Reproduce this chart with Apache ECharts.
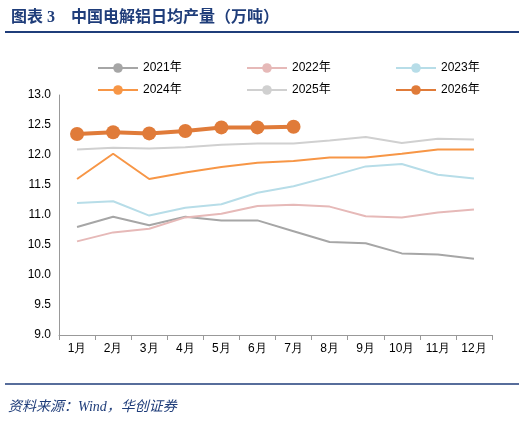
<!DOCTYPE html><html><head><meta charset="utf-8"><script src="https://cdn.jsdelivr.net/npm/echarts@6/dist/echarts.min.js"></script>
<style>html,body{margin:0;padding:0;background:#fff}</style></head><body><div id="c" style="width:524px;height:422px"></div><script>
var months=['1月','2月','3月','4月','5月','6月','7月','8月','9月','10月','11月','12月'];
var s2021=[10.8,10.97,10.83,10.97,10.91,10.91,10.73,10.55,10.53,10.36,10.34,10.27];
var s2022=[10.56,10.71,10.77,10.96,11.02,11.15,11.17,11.14,10.98,10.96,11.04,11.09];
var s2023=[11.2,11.23,10.99,11.12,11.18,11.37,11.48,11.64,11.81,11.85,11.67,11.61];
var s2024=[11.6,12.02,11.6,11.71,11.8,11.87,11.9,11.96,11.96,12.02,12.09,12.09];
var s2025=[12.09,12.12,12.11,12.13,12.17,12.19,12.19,12.24,12.3,12.2,12.27,12.26];
var s2026=[12.35,12.38,12.36,12.4,12.46,12.46,12.47];
var names=['2021年','2022年','2023年','2024年','2025年','2026年'];
var colors=['#a6a6a6','#e6b9b8','#b7dde8','#f79646','#d0d0d0','#e07b39'];
var data=[s2021,s2022,s2023,s2024,s2025,s2026];
var navy='#1f3d7a';
var series=data.map(function(d,i){var big=i===5;return {name:names[i],type:'line',data:d,symbol:big?'circle':'none',symbolSize:14,showSymbol:big,
 lineStyle:{color:colors[i],width:big?4:2},itemStyle:{color:colors[i]},z:big?5:2};});
function lg(arr,left){return {data:arr,left:left,top:57,orient:'vertical',itemGap:10,itemWidth:40,itemHeight:12,textStyle:{fontSize:12,color:'#000',fontFamily:'Liberation Sans, Noto Sans CJK SC'}};}
var c=echarts.init(document.getElementById('c'));
c.setOption({animation:false,
 title:{text:'图表 3    中国电解铝日均产量（万吨）',left:6,top:5,textStyle:{fontSize:16,fontWeight:'bold',color:navy,fontFamily:'Liberation Serif, Noto Sans CJK SC'}},
 graphic:[{type:'line',shape:{x1:5,y1:32,x2:519,y2:32},style:{stroke:navy,lineWidth:2}},
  {type:'line',shape:{x1:5,y1:384,x2:519,y2:384},style:{stroke:navy,lineWidth:1.5}},
  {type:'text',left:8,top:400,style:{text:'资料来源：Wind，华创证券',fontSize:14,fontStyle:'italic',fill:navy,fontFamily:'Liberation Serif, Noto Sans CJK SC'}}],
 legend:[lg(['2021年','2024年'],92),lg(['2022年','2025年'],241),lg(['2023年','2026年'],390)],
 grid:{left:59,right:32,top:95,bottom:87},
 xAxis:{type:'category',data:months,boundaryGap:true,axisLine:{lineStyle:{color:'#999'}},axisTick:{show:true,lineStyle:{color:'#999'}},axisLabel:{color:'#000',fontSize:12}},
 yAxis:{type:'value',min:9,max:13,interval:0.5,axisLine:{show:true,lineStyle:{color:'#999'}},splitLine:{show:false},axisLabel:{color:'#000',fontSize:12,formatter:function(v){return v.toFixed(1);}}},
 series:series});
</script></body></html>
